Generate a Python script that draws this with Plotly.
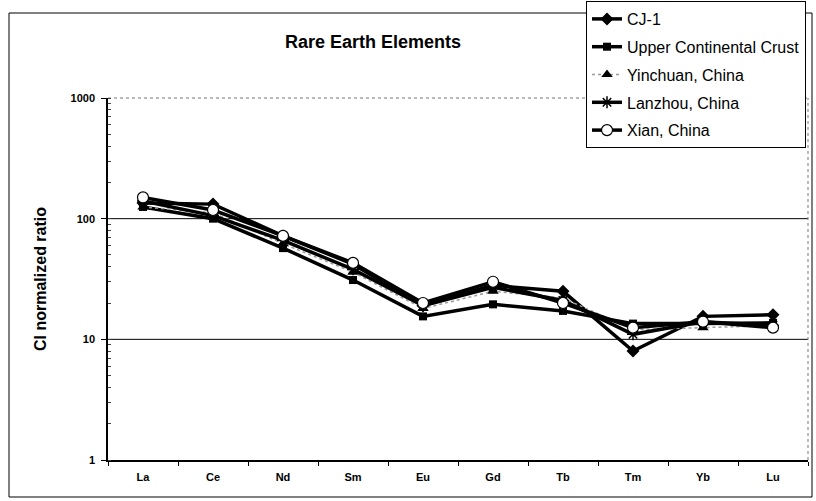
import plotly.graph_objects as go

# Chondrite (CI) normalised rare earth element abundances
elements = ["La", "Ce", "Nd", "Sm", "Eu", "Gd", "Tb", "Tm", "Yb", "Lu"]

cj1 = [135, 132, 72, 42, 19, 28, 25, 8, 15.5, 16]
upper_crust = [125, 100, 57, 31, 15.5, 19.5, 17.2, 13.5, 13.5, 13.7]
yinchuan = [125, 112, 62, 36, 18, 25, 22, 12, 12.5, 13]
lanzhou = [140, 106, 66, 38, 19, 27, 21, 11, 14, 13]
xian = [150, 118, 72, 43, 20, 30, 20, 12.5, 14, 12.5]

series_names = ["CJ-1", "Upper Continental Crust", "Yinchuan, China",
                "Lanzhou, China", "Xian, China"]

W, H = 816, 501
L, R, T, B = 108, 8, 98, 41
PW, PH = W - L - R, H - T - B


def px_x(px):
    return (px - L) / PW


def px_y(py):
    return (H - B - py) / PH


FONT = "Liberation Sans, Arial, sans-serif"

fig = go.Figure()

styles = [
    dict(line=dict(color="black", width=3.5),
         marker=dict(symbol="diamond", size=10, color="black")),
    dict(line=dict(color="black", width=3.5),
         marker=dict(symbol="square", size=8, color="black")),
    dict(line=dict(color="#9a9a9a", width=1.5, dash="dot"),
         marker=dict(symbol="triangle-up", size=10, color="black")),
    dict(line=dict(color="black", width=3.5),
         marker=dict(symbol="asterisk-open", size=10,
                     line=dict(color="black", width=1.5))),
    dict(line=dict(color="black", width=3.5),
         marker=dict(symbol="circle", size=11, color="white",
                     line=dict(color="black", width=1.2))),
]

for i, (name, vals, st) in enumerate(zip(series_names,
                                          [cj1, upper_crust, yinchuan, lanzhou, xian],
                                          styles)):
    fig.add_trace(go.Scatter(x=elements, y=vals, name=name, mode="lines+markers",
                             legendgroup=f"g{i}", **st))

shapes = []
# outer chart frame
shapes.append(dict(type="rect", xref="paper", yref="paper",
                   x0=px_x(9), x1=px_x(812), y0=px_y(497), y1=px_y(13),
                   line=dict(color="black", width=1), layer="below"))
# major grid lines
for v in (10, 100):
    shapes.append(dict(type="line", xref="paper", yref="y", x0=0, x1=1, y0=v, y1=v,
                       line=dict(color="black", width=1), layer="below"))
# dotted top and right edges of the plot area
shapes.append(dict(type="line", xref="paper", yref="paper", x0=0, x1=1, y0=1, y1=1,
                   line=dict(color="#777777", width=1, dash="dot"), layer="below"))
shapes.append(dict(type="line", xref="paper", yref="paper", x0=1, x1=1, y0=0, y1=1,
                   line=dict(color="#777777", width=1, dash="dot"), layer="below"))

fig.update_layout(
    width=W, height=H,
    margin=dict(l=L, r=R, t=T, b=B, autoexpand=False),
    paper_bgcolor="white", plot_bgcolor="white",
    font=dict(family=FONT, color="black"),
    showlegend=True,
    legend=dict(x=px_x(586), xanchor="left", y=px_y(1), yanchor="top",
                bgcolor="white", bordercolor="black", borderwidth=1,
                font=dict(size=16, family=FONT, color="black"),
                tracegroupgap=4, itemwidth=30),
    shapes=shapes,
    annotations=[
        dict(text="<b>Rare Earth Elements</b>", xref="paper", yref="paper",
             x=px_x(373), y=px_y(42), xanchor="center", yanchor="middle",
             showarrow=False, font=dict(size=18, family=FONT)),
        dict(text="<b>CI normalized ratio</b>", xref="paper", yref="paper",
             x=px_x(40), y=0.5, xanchor="center", yanchor="middle",
             textangle=-90, showarrow=False, font=dict(size=16, family=FONT)),
    ],
)

fig.update_xaxes(
    type="category", range=[-0.5, 9.5],
    showline=True, linecolor="black", linewidth=1.5,
    ticks="outside", tickson="boundaries", ticklen=4, tickcolor="black",
    showgrid=False, zeroline=False,
    tickfont=dict(size=11, family=FONT), ticklabelstandoff=6,
    tickvals=elements, ticktext=[f"<b>{e}</b>" for e in elements],
)

fig.update_yaxes(
    type="log", range=[0, 3],
    showline=True, linecolor="black", linewidth=1.5,
    ticks="outside", ticklen=5, tickcolor="black",
    showgrid=False, zeroline=False,
    tickvals=[1, 10, 100, 1000], ticktext=["<b>1</b>", "<b>10</b>", "<b>100</b>", "<b>1000</b>"],
    tickfont=dict(size=11, family=FONT), ticklabelstandoff=4,
    minor=dict(ticks="inside", ticklen=3, tickcolor="#444444", dtick="D1", showgrid=False),
)

fig.write_html("out.html")
